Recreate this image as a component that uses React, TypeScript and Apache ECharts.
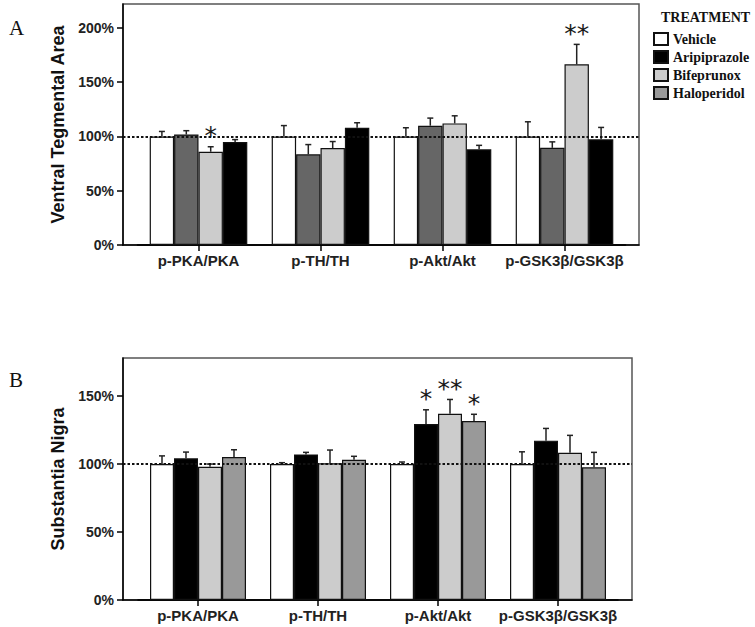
import React, { useEffect, useRef } from 'react';
import * as echarts from 'echarts';

// ---------- data ----------
const categories = ['p-PKA/PKA', 'p-TH/TH', 'p-Akt/Akt', 'p-GSK3β/GSK3β'];
const treatments = ['Vehicle', 'Aripiprazole', 'Bifeprunox', 'Haloperidol'];
const yTicksVTA = [0, 50, 100, 150, 200];
const yTicksSN = [0, 50, 100, 150];
const referenceLevel = 100;

// Panel A – Ventral Tegmental Area (bar order left→right within each group)
const vtaVehicle = [100, 100, 100, 100];
const vtaAripiprazole = [101.8, 83.5, 109.9, 89.5];
const vtaBifeprunox = [85.9, 89.3, 112, 166.4];
const vtaHaloperidol = [94.9, 108, 88.1, 97.3];
const vtaVehicleErr = [4.6, 10, 8, 13.5];
const vtaAripiprazoleErr = [3.5, 9, 7, 5.5];
const vtaBifeprunoxErr = [4.6, 6, 7, 18.4];
const vtaHaloperidolErr = [2.2, 4.6, 3.7, 11];
const vtaVehicleSig = ['', '', '', ''];
const vtaAripiprazoleSig = ['', '', '', ''];
const vtaBifeprunoxSig = ['*', '', '', '**'];
const vtaHaloperidolSig = ['', '', '', ''];

// Panel B – Substantia Nigra
const snVehicle = [100, 100, 100, 100];
const snAripiprazole = [104.2, 107.1, 129.4, 117.2];
const snBifeprunox = [98, 100.5, 137, 108.3];
const snHaloperidol = [105.1, 103.2, 131.6, 97.6];
const snVehicleErr = [6, 1, 1.5, 9];
const snAripiprazoleErr = [4.6, 1.5, 10.5, 9];
const snBifeprunoxErr = [2, 9.8, 10.5, 12.8];
const snHaloperidolErr = [5.4, 2.5, 5, 11];
const snVehicleSig = ['', '', '', ''];
const snAripiprazoleSig = ['', '', '*', ''];
const snBifeprunoxSig = ['', '', '**', ''];
const snHaloperidolSig = ['', '', '*', ''];

// ---------- styles ----------
const colorsVTA = ['#ffffff', '#666666', '#cccccc', '#000000'];
const colorsSN = ['#ffffff', '#000000', '#cccccc', '#999999'];
const SANS = 'Liberation Sans, Arial, sans-serif';
const SERIF = 'Liberation Serif, Times New Roman, serif';
const BAR_CAT_GAP = 0.2;

function barSeries(means: number[][], colors: string[], xIdx: number, yIdx: number) {
  return means.map((vals, s) => ({
    type: 'bar',
    name: treatments[s],
    xAxisIndex: xIdx,
    yAxisIndex: yIdx,
    data: vals,
    barGap: '0%',
    barCategoryGap: `${BAR_CAT_GAP * 100}%`,
    itemStyle: { color: colors[s], borderColor: '#111', borderWidth: 1.2 },
    emphasis: { disabled: true },
    z: 2,
  }));
}

function errorSeries(means: number[][], errs: number[][], sigs: string[][], xIdx: number, yIdx: number) {
  const data: number[][] = [];
  const sigList: string[] = [];
  const nSeries = means.length;
  means.forEach((vals, s) => {
    vals.forEach((v, c) => {
      data.push([c, s, v, errs[s][c]]);
      sigList.push(sigs[s][c]);
    });
  });
  return {
    type: 'custom',
    xAxisIndex: xIdx,
    yAxisIndex: yIdx,
    dimensions: ['cat', 'series', 'mean', 'err'],
    encode: { x: 0, y: 2 },
    data,
    z: 4,
    silent: true,
    clip: false,
    renderItem: (params: any, api: any) => {
      const c = api.value(0);
      const s = api.value(1);
      const m = api.value(2);
      const e = api.value(3);
      const p0 = api.coord([c, m]);
      const p1 = api.coord([c, m + e]);
      const band = api.size([1, 0])[0];
      const bw = (band * (1 - BAR_CAT_GAP)) / nSeries;
      const x = p0[0] + (s - (nSeries - 1) / 2) * bw;
      const children: any[] = [
        { type: 'line', shape: { x1: x, y1: p0[1], x2: x, y2: p1[1] }, style: { stroke: '#222', lineWidth: 1.5 } },
        { type: 'line', shape: { x1: x - 3, y1: p1[1], x2: x + 3, y2: p1[1] }, style: { stroke: '#222', lineWidth: 1.5 } },
      ];
      const sig = sigList[params.dataIndex];
      if (sig) {
        children.push({
          type: 'text',
          x,
          y: p1[1] - 11,
          style: {
            text: sig,
            fill: '#1a1a1a',
            fontSize: 25,
            fontFamily: 'DejaVu Sans, sans-serif',
            align: 'center',
            verticalAlign: 'middle',
          },
        });
      }
      return { type: 'group', children };
    },
  };
}

function refLineSeries(xIdx: number, yIdx: number) {
  return {
    type: 'line',
    xAxisIndex: xIdx,
    yAxisIndex: yIdx,
    data: [],
    silent: true,
    markLine: {
      silent: true,
      symbol: 'none',
      label: { show: false },
      lineStyle: { color: '#111', width: 2, type: [2.5, 2] },
      emphasis: { disabled: true },
      data: [{ yAxis: referenceLevel }],
    },
    z: 3,
  };
}

const vtaMeans = [vtaVehicle, vtaAripiprazole, vtaBifeprunox, vtaHaloperidol];
const vtaErrs = [vtaVehicleErr, vtaAripiprazoleErr, vtaBifeprunoxErr, vtaHaloperidolErr];
const vtaSigs = [vtaVehicleSig, vtaAripiprazoleSig, vtaBifeprunoxSig, vtaHaloperidolSig];
const snMeans = [snVehicle, snAripiprazole, snBifeprunox, snHaloperidol];
const snErrs = [snVehicleErr, snAripiprazoleErr, snBifeprunoxErr, snHaloperidolErr];
const snSigs = [snVehicleSig, snAripiprazoleSig, snBifeprunoxSig, snHaloperidolSig];

const VTA_MAX = 222;
const SN_MAX = 178;

function frameYAxis(gridIndex: number, max: number, ticks: number[], name: string) {
  return {
    type: 'value',
    gridIndex,
    min: 0,
    max,
    name,
    nameLocation: 'middle',
    nameGap: 50,
    nameTextStyle: { fontFamily: SANS, fontWeight: 'bold', fontSize: 18, color: '#111' },
    axisLine: { show: true, lineStyle: { color: '#000', width: 1.5 } },
    axisTick: { show: true, length: 6, lineStyle: { color: '#000', width: 1.5 }, customValues: ticks },
    axisLabel: {
      formatter: '{value}%',
      fontFamily: SANS,
      fontWeight: 'bold',
      fontSize: 14,
      color: '#222',
      margin: 9,
      customValues: ticks,
    },
    splitLine: { show: false },
  };
}

function frameXAxis(gridIndex: number) {
  return {
    type: 'value',
    gridIndex,
    min: 0,
    max: 1,
    axisLine: { show: true, onZero: false, lineStyle: { color: '#000', width: 1.5 } },
    axisTick: { show: false },
    axisLabel: { show: false },
    splitLine: { show: false },
  };
}

function dataXAxis(gridIndex: number) {
  return {
    type: 'category',
    gridIndex,
    data: categories,
    axisLine: { show: true, onZero: false, lineStyle: { color: '#000', width: 1.5 } },
    axisTick: { show: true, alignWithLabel: true, interval: 0, length: 6, lineStyle: { color: '#000', width: 1.5 } },
    axisLabel: { interval: 0, fontFamily: SANS, fontWeight: 'bold', fontSize: 15, color: '#222', margin: 8 },
    splitLine: { show: false },
  };
}

function dataYAxis(gridIndex: number, max: number) {
  return { type: 'value', gridIndex, min: 0, max, show: false, splitLine: { show: false } };
}

export default function App() {
  const ref = useRef<HTMLDivElement>(null);

  useEffect(() => {
    document.body.style.margin = '0';
    if (!ref.current) return;
    const chart = echarts.init(ref.current, null, { renderer: 'svg' });
    const frameGrid = { show: true, borderColor: '#555', borderWidth: 1.5, backgroundColor: 'transparent', outerBoundsMode: 'none' };
    const option: any = {
      animation: false,
      backgroundColor: '#ffffff',
      title: [
        { text: 'A', left: 4, top: 12, textStyle: { fontFamily: SERIF, fontWeight: 'normal', fontSize: 21, color: '#111' } },
        { text: 'B', left: 4, top: 364, textStyle: { fontFamily: SERIF, fontWeight: 'normal', fontSize: 21, color: '#111' } },
        { text: 'TREATMENT', left: 656, top: 5, textStyle: { fontFamily: SERIF, fontWeight: 'bold', fontSize: 14, color: '#111' } },
      ],
      legend: {
        data: treatments,
        orient: 'vertical',
        left: 648,
        top: 27,
        itemWidth: 14,
        itemHeight: 12,
        itemGap: 4,
        icon: 'rect',
        selectedMode: false,
        textStyle: { fontFamily: SERIF, fontWeight: 'bold', fontSize: 14, color: '#111' },
      },
      grid: [
        { ...frameGrid, left: 123, top: 4, width: 516, height: 241 },
        { show: false, left: 137.5, top: 4, width: 488, height: 241, outerBoundsMode: 'none' },
        { ...frameGrid, left: 123, top: 358, width: 509, height: 242 },
        { show: false, left: 138, top: 358, width: 480, height: 242, outerBoundsMode: 'none' },
      ],
      xAxis: [frameXAxis(0), dataXAxis(1), frameXAxis(2), dataXAxis(3)],
      yAxis: [
        frameYAxis(0, VTA_MAX, yTicksVTA, 'Ventral Tegmental Area'),
        dataYAxis(1, VTA_MAX),
        frameYAxis(2, SN_MAX, yTicksSN, 'Substantia Nigra'),
        dataYAxis(3, SN_MAX),
      ],
      series: [
        // panel B first so the legend takes its colours from it
        ...barSeries(snMeans, colorsSN, 3, 3),
        ...barSeries(vtaMeans, colorsVTA, 1, 1),
        errorSeries(snMeans, snErrs, snSigs, 3, 3),
        errorSeries(vtaMeans, vtaErrs, vtaSigs, 1, 1),
        refLineSeries(0, 0),
        refLineSeries(2, 2),
      ],
    };
    chart.setOption(option);
    return () => chart.dispose();
  }, []);

  return <div ref={ref} style={{ width: 755, height: 627 }} />;
}
